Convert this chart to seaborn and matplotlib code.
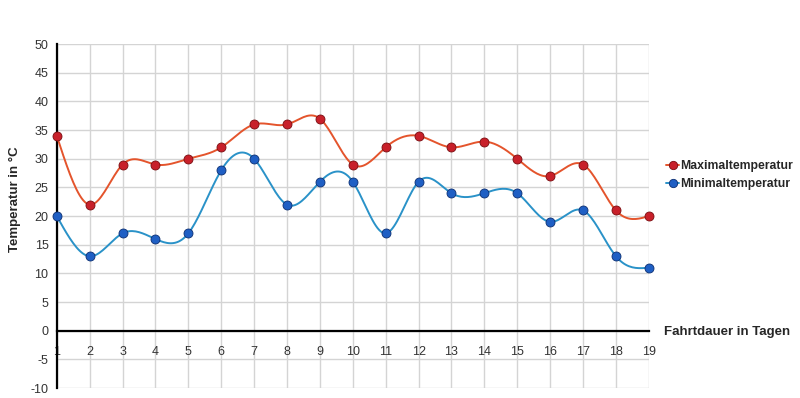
import numpy as np
import pandas as pd
import matplotlib
matplotlib.use("Agg")
import matplotlib.pyplot as plt
import seaborn as sns

# Reisetage und Temperaturen
tage = list(range(1, 20))
max_temp = [34, 22, 29, 29, 30, 32, 36, 36, 37, 29, 32, 34, 32, 33, 30, 27, 29, 21, 20]
min_temp = [20, 13, 17, 16, 17, 28, 30, 22, 26, 26, 17, 26, 24, 24, 24, 19, 21, 13, 11]
y_ticks = list(range(-10, 55, 5))

df = pd.DataFrame({"Tag": tage, "Maximaltemperatur": max_temp, "Minimaltemperatur": min_temp})


def natural_spline(x, y, n=20):
    # smooth path through the points (natural cubic spline), only for the line drawing
    x = np.asarray(x, float)
    y = np.asarray(y, float)
    k = len(x)
    h = np.diff(x)
    A = np.zeros((k, k))
    b = np.zeros(k)
    A[0, 0] = A[-1, -1] = 1
    for i in range(1, k - 1):
        A[i, i - 1] = h[i - 1]
        A[i, i] = 2 * (h[i - 1] + h[i])
        A[i, i + 1] = h[i]
        b[i] = 6 * ((y[i + 1] - y[i]) / h[i] - (y[i] - y[i - 1]) / h[i - 1])
    M = np.linalg.solve(A, b)
    xs, ys = [], []
    for i in range(k - 1):
        t = np.linspace(x[i], x[i + 1], n, endpoint=False)
        a = x[i + 1] - t
        c = t - x[i]
        s = (M[i] * a ** 3 + M[i + 1] * c ** 3) / (6 * h[i]) \
            + (y[i] / h[i] - M[i] * h[i] / 6) * a + (y[i + 1] / h[i] - M[i + 1] * h[i] / 6) * c
        xs.extend(t)
        ys.extend(s)
    xs.append(x[-1])
    ys.append(y[-1])
    return np.array(xs), np.array(ys)


sns.set_style("white")
plt.rcParams["font.family"] = ["Liberation Sans", "DejaVu Sans"]
plt.rcParams["axes.unicode_minus"] = False

fig = plt.figure(figsize=(8, 3.98), dpi=100)
ax = fig.add_axes([0.071, 0.025, 0.74, 0.864])

series = [
    ("Maximaltemperatur", "#e4542c", "#c8202a", "#7a0d10"),
    ("Minimaltemperatur", "#2a92c8", "#1f5fc4", "#0c2f72"),
]

for name, line_col, mark_col, edge_col in series:
    sx, sy = natural_spline(df["Tag"], df[name])
    sns.lineplot(x=sx, y=sy, ax=ax, color=line_col, linewidth=1.4, sort=False, zorder=3)
    sns.scatterplot(x=df["Tag"], y=df[name], ax=ax, color=mark_col, s=42,
                    edgecolor=edge_col, linewidth=0.6, zorder=4, clip_on=False)

ax.set_xlim(1, 19)
ax.set_ylim(-10, 50)
ax.set_xticks(tage)
ax.set_yticks(y_ticks)
ax.set_xlabel("")
ax.set_ylabel("")
ax.grid(True, color="#d4d4d4", linewidth=1)
ax.set_axisbelow(True)

for side in ["top", "right"]:
    ax.spines[side].set_visible(False)
ax.spines["bottom"].set_position(("data", 0))
ax.spines["bottom"].set_linewidth(1.6)
ax.spines["left"].set_linewidth(1.6)
ax.spines["bottom"].set_color("black")
ax.spines["left"].set_color("black")

ax.tick_params(axis="both", direction="out", length=4, width=1, colors="black",
               labelsize=9, labelcolor="#333333")
ax.tick_params(axis="x", pad=7)
ax.tick_params(axis="y", pad=2)

fig.text(0.019, 0.5, "Temperatur in °C", rotation=90, va="center", ha="center",
         fontsize=9.5, fontweight="bold")
fig.text(0.83, 0.165, "Fahrtdauer in Tagen", va="center", ha="left",
         fontsize=9.5, fontweight="bold")

handles = [
    plt.Line2D([], [], color=c, marker="o", markersize=6, markerfacecolor=m,
               markeredgecolor=e, markeredgewidth=0.6, linewidth=1.4)
    for _, c, m, e in series
]
fig.legend(handles, [s[0] for s in series], loc="center left",
           bbox_to_anchor=(0.833, 0.56), frameon=False,
           handlelength=1.0, handletextpad=0.15, labelspacing=0.5,
           borderaxespad=0, borderpad=0,
           prop={"weight": "bold", "size": 8.8})

fig.savefig("out.png", dpi=100)
